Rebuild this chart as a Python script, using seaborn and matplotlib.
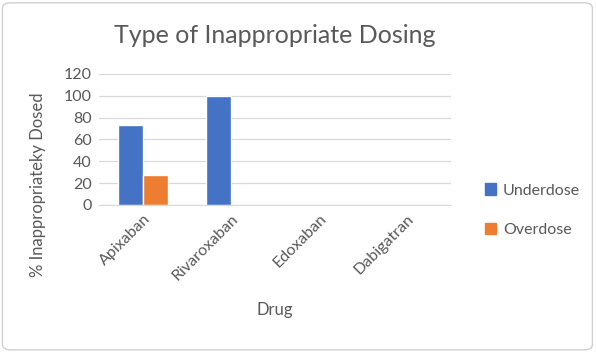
import matplotlib
matplotlib.use("Agg")
import matplotlib.pyplot as plt
import seaborn as sns
import pandas as pd
from matplotlib.patches import FancyBboxPatch

# Data
drugs = ["Apixaban", "Rivaroxaban", "Edoxaban", "Dabigatran"]
underdose = [73, 100, 0, 0]
overdose = [27, 0, 0, 0]
series = ["Underdose", "Overdose"]
colors = ["#4472C4", "#ED7D31"]

df = pd.DataFrame({
    "Drug": drugs * 2,
    "Value": underdose + overdose,
    "Type": [series[0]] * len(drugs) + [series[1]] * len(drugs),
})

sns.set_style("white")
plt.rcParams["font.family"] = ["Lato", "DejaVu Sans"]
text_color = "#595959"

fig = plt.figure(figsize=(5.96, 3.52), dpi=100)
ax = fig.add_axes([0.166, 0.418, 0.591, 0.372])

sns.barplot(data=df, x="Drug", y="Value", hue="Type", palette=colors,
            width=0.57, ax=ax, legend=False, saturation=1)

ax.set_ylim(0, 120)
ax.set_yticks(range(0, 121, 20))
ax.set_xlim(-0.5, 3.5)
ax.yaxis.grid(True, color="#d9d9d9", linewidth=0.9)
ax.set_axisbelow(True)
for s in ["top", "right", "left"]:
    ax.spines[s].set_visible(False)
ax.spines["bottom"].set_color("#d9d9d9")
ax.tick_params(axis="both", length=0, labelsize=11.5, colors=text_color, pad=5)
ax.set_xticks(range(len(drugs)))
ax.set_xticklabels(drugs, rotation=45, ha="right", rotation_mode="anchor")
ax.set_xlabel("Drug", fontsize=12, color=text_color, labelpad=14)
ax.set_ylabel("% Inappropriateky Dosed", fontsize=12, color=text_color)
ax.yaxis.set_label_coords(-0.15, 0.15)
ax.set_title("Type of Inappropriate Dosing", fontsize=18, color=text_color, pad=22)

handles = [plt.Rectangle((0, 0), 1, 1, color=c) for c in colors]
fig.legend(handles, series, loc="upper left", bbox_to_anchor=(0.79, 0.52),
           frameon=False, fontsize=11.5, labelcolor=text_color, handlelength=0.7,
           handleheight=0.7, handletextpad=0.4, labelspacing=1.6)

border = FancyBboxPatch((0.004, 0.006), 0.99, 0.986, boxstyle="round,pad=0,rounding_size=0.015",
                        transform=fig.transFigure, fill=False, edgecolor="#d0d0d0", linewidth=1)
fig.patches.append(border)

fig.savefig("out.png", dpi=100)
